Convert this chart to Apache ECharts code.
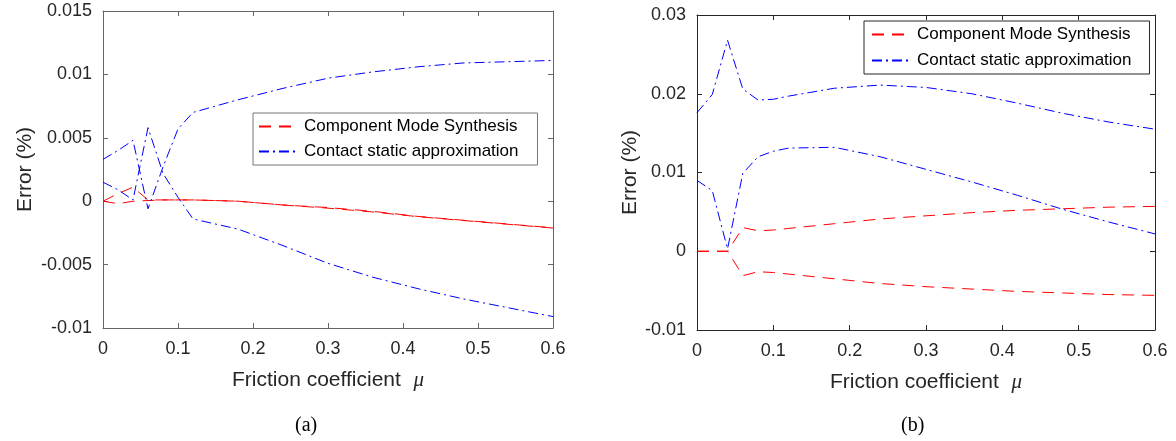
<!DOCTYPE html>
<html>
<head>
<meta charset="utf-8">
<script src="https://cdn.jsdelivr.net/npm/echarts@6/dist/echarts.min.js"></script>
<style>
html,body{margin:0;padding:0;background:#fff;}
#chart{width:1176px;height:441px;}
</style>
</head>
<body>
<div id="chart"></div>
<script>
// ---- data ----
var mu = [0, 0.02, 0.04, 0.06, 0.08, 0.1, 0.12, 0.18, 0.24, 0.3, 0.36, 0.42, 0.48, 0.54, 0.6];

// panel (a)
var cmsUpperA = [0, 0.0006, 0.0011, 0.0001, 0.0001, 0.0001, 0.0001, 0.0000, -0.0003, -0.0005, -0.0008, -0.0012, -0.0015, -0.0018, -0.0021];
var cmsLowerA = [0, -0.0002, 0.0000, 0.00005, 0.0001, 0.0001, 0.0001, 0.0000, -0.0003, -0.00055, -0.00085, -0.00122, -0.00152, -0.00182, -0.00212];
var csaUpperA = [0.0033, 0.0040, 0.0048, -0.0006, 0.0027, 0.0057, 0.0070, 0.0080, 0.0089, 0.0097, 0.0102, 0.0106, 0.0109, 0.0110, 0.0111];
var csaLowerA = [0.0015, 0.0009, 0.0001, 0.0058, 0.0022, 0.0003, -0.0014, -0.0022, -0.0035, -0.0049, -0.0060, -0.0069, -0.0077, -0.0084, -0.0091];

// panel (b)
var cmsUpperB = [0, 0, 0, 0.0030, 0.0026, 0.0027, 0.0029, 0.0035, 0.0041, 0.0045, 0.0049, 0.0052, 0.0054, 0.0056, 0.0057];
var cmsLowerB = [0, 0, 0, -0.0031, -0.0026, -0.0027, -0.0029, -0.0035, -0.0041, -0.0045, -0.0048, -0.0051, -0.0053, -0.0055, -0.0056];
var csaUpperB = [0.0176, 0.0199, 0.0268, 0.0206, 0.0192, 0.0193, 0.0197, 0.0207, 0.0211, 0.0208, 0.0200, 0.0188, 0.0175, 0.0164, 0.0155];
var csaLowerB = [0.0090, 0.0077, 0.0003, 0.0099, 0.0120, 0.0127, 0.0131, 0.0132, 0.0120, 0.0104, 0.0088, 0.0071, 0.0053, 0.0037, 0.0022];

var legendNames = ['Component Mode Synthesis', 'Contact static approximation'];
var xTicks = {min: 0, max: 0.6, interval: 0.1};
var yTicksA = {min: -0.01, max: 0.015, interval: 0.005};
var yTicksB = {min: -0.01, max: 0.03, interval: 0.01};
var xTitle = 'Friction coefficient';
var xSymbol = 'μ';
var yTitle = 'Error (%)';
var captions = ['(a)', '(b)'];

// ---- build ----
function pairs(ys){ return mu.map(function(x,i){ return [x, ys[i]]; }); }
var SANS = "'Liberation Sans', Arial, sans-serif";
var SERIF = "'Liberation Serif', 'Times New Roman', serif";
var TXT = '#262626';
var redDash = {color:'#ff0000', width:1, type:[12,8]};
var blueDashDot = {color:'#0000ff', width:1, type:[10,4,2,4]};

function line(name, ys, style, idx){
  return {name:name, type:'line', data:pairs(ys), xAxisIndex:idx, yAxisIndex:idx,
    symbol:'none', showSymbol:false, lineStyle:style, itemStyle:{color:style.color},
    animation:false, silent:true, z:3};
}

function xAxes(grid, axisColor){
  return [
    {type:'value', gridIndex:grid, position:'bottom', min:xTicks.min, max:xTicks.max, interval:xTicks.interval,
     axisLine:{show:true, onZero:false, lineStyle:{color:axisColor, width:1}},
     axisTick:{show:true, inside:true, length:5, lineStyle:{color:axisColor}},
     axisLabel:{show:true, margin:12, fontSize:18, fontFamily:SANS, color:TXT},
     splitLine:{show:false},
     name:'{t|' + xTitle + '}  {m|' + xSymbol + '}', nameLocation:'middle', nameGap:42,
     nameTextStyle:{rich:{t:{fontSize:21, fontFamily:SANS, color:TXT}, m:{fontSize:21, fontFamily:SERIF, fontStyle:'italic', color:TXT, padding:[0,0,0,6]}}}},
    {type:'value', gridIndex:grid, position:'top', min:xTicks.min, max:xTicks.max, interval:xTicks.interval,
     axisLine:{show:true, onZero:false, lineStyle:{color:axisColor, width:1}},
     axisTick:{show:true, inside:true, length:5, lineStyle:{color:axisColor}},
     axisLabel:{show:false}, splitLine:{show:false}}
  ];
}
function yAxes(grid, axisColor, t, gap){
  return [
    {type:'value', gridIndex:grid, position:'left', min:t.min, max:t.max, interval:t.interval,
     axisLine:{show:true, onZero:false, lineStyle:{color:axisColor, width:1}},
     axisTick:{show:true, inside:true, length:5, lineStyle:{color:axisColor}},
     axisLabel:{show:true, margin:11, fontSize:18, fontFamily:SANS, color:TXT},
     splitLine:{show:false},
     name:yTitle, nameLocation:'middle', nameGap:gap, nameRotate:90,
     nameTextStyle:{fontSize:21, fontFamily:SANS, color:TXT}},
    {type:'value', gridIndex:grid, position:'right', min:t.min, max:t.max, interval:t.interval,
     axisLine:{show:true, onZero:false, lineStyle:{color:axisColor, width:1}},
     axisTick:{show:true, inside:true, length:5, lineStyle:{color:axisColor}},
     axisLabel:{show:false}, splitLine:{show:false}}
  ];
}

var xa0 = xAxes(0, '#666666'), xa1 = xAxes(1, '#262626');
var ya0 = yAxes(0, '#666666', yTicksA, 67), ya1 = yAxes(1, '#262626', yTicksB, 54);

var option = {
  animation:false,
  backgroundColor:'#ffffff',
  grid:[
    {left:103, top:11, width:450, height:317, containLabel:false},
    {left:697, top:15, width:458, height:315, containLabel:false}
  ],
  xAxis:[xa0[0], xa1[0], xa0[1], xa1[1]],
  yAxis:[ya0[0], ya1[0], ya0[1], ya1[1]],
  legend:[
    {data:legendNames, orient:'vertical', left:253, top:113, itemWidth:40, itemHeight:17, itemGap:8,
     padding:[5,19,5,5], borderColor:'#777777', borderWidth:1, backgroundColor:'#ffffff',
     itemStyle:{opacity:0, borderWidth:0}, 
     textStyle:{fontSize:17, fontFamily:SANS, color:'#000'}, selectedMode:false, z:10},
    {data:legendNames, orient:'vertical', left:864, top:21, itemWidth:40, itemHeight:17, itemGap:9,
     padding:[5,18,5,7], borderColor:'#262626', borderWidth:1, backgroundColor:'#ffffff',
     itemStyle:{opacity:0, borderWidth:0},
     textStyle:{fontSize:17, fontFamily:SANS, color:'#000'}, selectedMode:false, z:10}
  ],
  graphic:[
    {type:'text', left:295, top:416, style:{text:captions[0], font:'20px ' + SERIF, fill:'#000'}},
    {type:'text', left:901, top:416, style:{text:captions[1], font:'20px ' + SERIF, fill:'#000'}}
  ],
  series:[
    line(legendNames[0], cmsUpperA, redDash, 0),
    line(legendNames[0], cmsLowerA, redDash, 0),
    line(legendNames[1], csaUpperA, blueDashDot, 0),
    line(legendNames[1], csaLowerA, blueDashDot, 0),
    line(legendNames[0], cmsUpperB, redDash, 1),
    line(legendNames[0], cmsLowerB, redDash, 1),
    line(legendNames[1], csaUpperB, blueDashDot, 1),
    line(legendNames[1], csaLowerB, blueDashDot, 1)
  ]
};
var chart = echarts.init(document.getElementById('chart'), null, {renderer:'canvas'});
chart.setOption(option);
</script>
</body>
</html>
